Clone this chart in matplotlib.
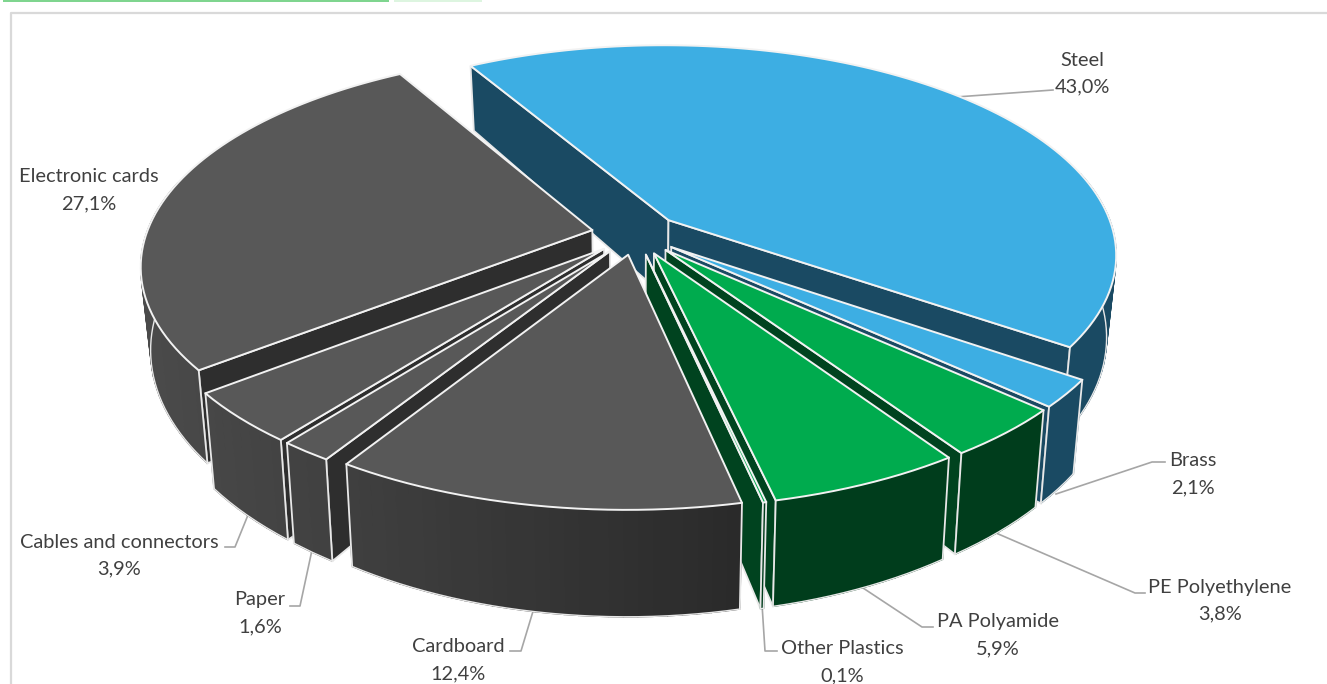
import numpy as np
import matplotlib
matplotlib.use("Agg")
import matplotlib.pyplot as plt
from matplotlib.colors import to_rgb
from matplotlib.patches import Polygon, Rectangle

categories = ["Steel", "Brass", "PE Polyethylene", "PA Polyamide", "Other Plastics",
              "Cardboard", "Paper", "Cables and connectors", "Electronic cards"]
values = [43.0, 2.1, 3.8, 5.9, 0.1, 12.4, 1.6, 3.9, 27.1]
groups = ["blue", "blue", "green", "green", "green", "gray", "gray", "gray", "gray"]

top_colors = {"blue": "#3DAEE3", "green": "#00AB4E", "gray": "#585858"}
wall_colors = {"blue": "#1A4A63", "green": "#00431F", "gray": "#2E2E2E"}
arc_light = {"blue": "#1A4A63", "green": "#004A22", "gray": "#4A4A4A"}
arc_dark = {"blue": "#1A4A63", "green": "#003D1C", "gray": "#2A2A2A"}

# label centre x, first line y, then the leader line
label_pos = {
    "Steel": (1082, 60), "Brass": (1193, 461), "PE Polyethylene": (1220, 587),
    "PA Polyamide": (998, 622), "Other Plastics": (842, 649), "Cardboard": (458, 647),
    "Paper": (260, 600), "Cables and connectors": (119, 542), "Electronic cards": (89, 177),
}
leaders = {
    "Steel": [(956, 97), (1053, 90)],
    "Brass": [(1056, 494), (1152, 462), (1165, 462)],
    "PE Polyethylene": [(996, 533), (1135, 593), (1145, 593)],
    "PA Polyamide": [(860, 586), (922, 627), (933, 627)],
    "Other Plastics": [(762, 604), (765, 651), (777, 651)],
    "Cardboard": [(534, 608), (521, 651), (510, 651)],
    "Paper": [(312, 550), (300, 606), (290, 606)],
    "Cables and connectors": [(248, 515), (235, 547), (225, 547)],
}

CX, CY = 636, 234
RX, RY = 446, 207
PERSP = 0.16
DEPTH = 80
EXPLODE = 0.1
START = -30


def project(x, y):
    s = 1 / (1 + PERSP * y)
    return CX + RX * x * s, CY - RY * y * s


def lower(x, y):
    # same ground point on the underside of the pie
    s = 1 / (1 + PERSP * y)
    px, py = project(x, y)
    return CX + (px - CX) * 0.98, py + DEPTH * s ** 1.5


def mix(a, b, t):
    return tuple((1 - t) * p + t * q for p, q in zip(to_rgb(a), to_rgb(b)))


fig = plt.figure(figsize=(13.27, 6.84), dpi=100)
ax = fig.add_axes([0, 0, 1, 1])
ax.set_xlim(0, 1327)
ax.set_ylim(684, 0)
ax.axis("off")

# page leftovers and chart frame
ax.add_patch(Rectangle((3, 0), 386, 1.5, color="#7FD58F", lw=0))
ax.add_patch(Rectangle((394, 0), 88, 1.5, color="#DDF5E0", lw=0))
ax.plot([11, 11, 1327], [684, 13, 13], color="#D9D9D9", lw=1.6)

for name, pts in leaders.items():
    ax.plot(*zip(*pts), color="#A6A6A6", lw=1.2, zorder=1)

edges = np.cumsum([0] + values) * 3.6 + START
order = []
for i in range(len(values)):
    mid = np.radians((edges[i] + edges[i + 1]) / 2)
    order.append((-np.cos(mid), i))

z = 2
for _, i in sorted(order):
    t0, t1 = edges[i], edges[i + 1]
    mid = np.radians((t0 + t1) / 2)
    ox, oy = EXPLODE * np.sin(mid), EXPLODE * np.cos(mid)
    n = max(3, int((t1 - t0) / 1.5))
    th = np.radians(np.linspace(t0, t1, n))
    gx, gy = ox + np.sin(th), oy + np.cos(th)
    g = groups[i]

    # radial walls, only the ones facing the viewer
    for k, facing in ((0, np.sin(th[0]) < 0), (-1, np.sin(th[-1]) > 0)):
        if not facing:
            continue
        quad = [project(ox, oy), project(gx[k], gy[k]), lower(gx[k], gy[k]), lower(ox, oy)]
        ax.add_patch(Polygon(quad, closed=True, fc=wall_colors[g], ec="#E8E8E8", lw=1.3, zorder=z))
        z += 1

    # outer wall in strips, lighter to the left
    seen = np.cos(th) < 0.25
    for k in range(n - 1):
        if not (seen[k] and seen[k + 1]):
            continue
        quad = [project(gx[k], gy[k]), project(gx[k + 1], gy[k + 1]),
                lower(gx[k + 1], gy[k + 1]), lower(gx[k], gy[k])]
        shade = np.clip((project(gx[k], gy[k])[0] - 150) / 600, 0, 1)
        c = mix(arc_light[g], arc_dark[g], shade)
        ax.add_patch(Polygon(quad, closed=True, fc=c, ec=c, lw=1.0, zorder=z))
    z += 1
    if seen.any():
        low = [lower(a, b) for a, b in zip(gx[seen], gy[seen])]
        ax.plot(*zip(*low), color="#E8E8E8", lw=1.0, zorder=z)
        for k in (0, -1):
            if seen[k]:
                ax.plot(*zip(project(gx[k], gy[k]), lower(gx[k], gy[k])),
                        color="#E8E8E8", lw=1.3, zorder=z)
    z += 1

    top = [project(ox, oy)] + [project(a, b) for a, b in zip(gx, gy)]
    ax.add_patch(Polygon(top, closed=True, fc=top_colors[g], ec="#F2F2F2", lw=1.4,
                         joinstyle="round", zorder=z))
    z += 1

for name, val in zip(categories, values):
    x, y = label_pos[name]
    pct = f"{val:.1f}%".replace(".", ",")
    ax.text(x, y, name, ha="center", va="center", family="Lato", fontsize=14.4,
            color="#404040", zorder=z)
    ax.text(x, y + 27, pct, ha="center", va="center", family="Lato", fontsize=14.4,
            color="#404040", zorder=z)

fig.savefig("out.png", dpi=100)
